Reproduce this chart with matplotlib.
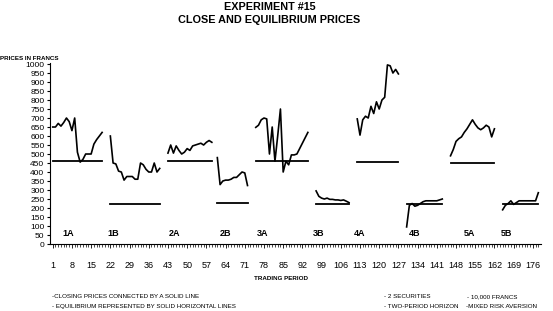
import numpy as np
import matplotlib.pyplot as plt

plt.rcParams['font.family'] = ['Liberation Sans', 'DejaVu Sans']

# sessions, first trading period of each and closing prices (francs)
sessions = ["1A", "1B", "2A", "2B", "3A", "3B", "4A", "4B", "5A", "5B"]
start_period = [1, 22, 43, 61, 75, 97, 112, 130, 146, 165]

close_1a = [650, 650, 670, 655, 675, 700, 680, 630, 700, 510, 455, 470, 500, 500, 500, 555, 580, 600, 620]
close_1b = [600, 450, 445, 405, 400, 355, 375, 375, 375, 360, 360, 450, 440, 415, 400, 400, 450, 400, 420]
close_2a = [505, 550, 505, 545, 520, 500, 510, 530, 520, 545, 550, 555, 560, 550, 565, 575, 565]
close_2b = [480, 330, 350, 355, 355, 360, 370, 370, 385, 400, 395, 325]
close_3a = [648, 660, 690, 700, 695, 500, 650, 460, 600, 750, 400, 460, 440, 495, 495, 500, 530, 560, 590, 620]
close_3b = [295, 265, 255, 250, 255, 248, 248, 245, 245, 242, 245, 238, 230]
close_4a = [695, 605, 690, 710, 700, 765, 725, 790, 750, 800, 815, 995, 990, 950, 970, 945]
close_4b = [95, 215, 225, 210, 215, 225, 235, 240, 240, 240, 240, 240, 245, 250]
close_5a = [490, 525, 570, 585, 595, 620, 640, 665, 690, 665, 645, 635, 645, 660, 650, 595, 640]
close_5b = [190, 215, 225, 240, 220, 230, 240, 240, 240, 240, 240, 240, 240, 285]
closes = [close_1a, close_1b, close_2a, close_2b, close_3a,
          close_3b, close_4a, close_4b, close_5a, close_5b]

equilibrium = [460, 225, 460, 230, 460, 225, 455, 225, 450, 225]
label_period = [6.5, 23, 45.5, 64, 77.5, 98, 113, 133, 153, 166.5]

fig = plt.figure(figsize=(5.53, 3.11), dpi=100)
ax = fig.add_axes([0.0904, 0.2154, 0.888, 0.5834])

for name, start, prices, eq, lp in zip(sessions, start_period, closes, equilibrium, label_period):
    t = np.arange(start, start + len(prices))
    ax.plot(t, prices, color='black', lw=1.2)
    ax.plot([t[0], t[-1]], [eq, eq], color='black', lw=1.3)
    ax.text(lp, 60, name, ha='center', va='center', fontsize=6.5, fontweight='bold')

ax.set_xlim(0, 179)
ax.set_ylim(0, 1008)
ax.set_yticks(np.arange(0, 1001, 50))
ax.set_xticks(np.arange(1, 177, 7))
ax.set_xticks(np.arange(1, 179), minor=True)
ax.tick_params(axis='y', labelsize=6, length=2, width=0.8, pad=2)
ax.tick_params(axis='x', which='major', labelsize=6.5, length=3, width=0.6, pad=9)
ax.tick_params(axis='x', which='minor', length=2, width=0.5)
for s in ['top', 'right']:
    ax.spines[s].set_visible(False)
for s in ['left', 'bottom']:
    ax.spines[s].set_linewidth(0.8)

fig.text(0.488, 0.979, "EXPERIMENT #15", ha='center', va='center', fontsize=7.8, fontweight='bold')
fig.text(0.486, 0.935, "CLOSE AND EQUILIBRIUM PRICES", ha='center', va='center', fontsize=7.8, fontweight='bold')
fig.text(0.0, 0.812, "PRICES IN FRANCS", ha='left', va='center', fontsize=4.5, fontweight='bold')
fig.text(0.508, 0.103, "TRADING PERIOD", ha='center', va='center', fontsize=4.5, fontweight='bold')
fig.text(0.094, 0.046, "-CLOSING PRICES CONNECTED BY A SOLID LINE", ha='left', va='center', fontsize=4.5)
fig.text(0.094, 0.013, "- EQUILIBRIUM REPRESENTED BY SOLID HORIZONTAL LINES", ha='left', va='center', fontsize=4.5)
fig.text(0.694, 0.046, "- 2 SECURITIES", ha='left', va='center', fontsize=4.5)
fig.text(0.845, 0.046, "- 10,000 FRANCS", ha='left', va='center', fontsize=4.5)
fig.text(0.694, 0.013, "- TWO-PERIOD HORIZON", ha='left', va='center', fontsize=4.5)
fig.text(0.842, 0.013, "-MIXED RISK AVERSION", ha='left', va='center', fontsize=4.5)

fig.savefig("out.png", dpi=100)
